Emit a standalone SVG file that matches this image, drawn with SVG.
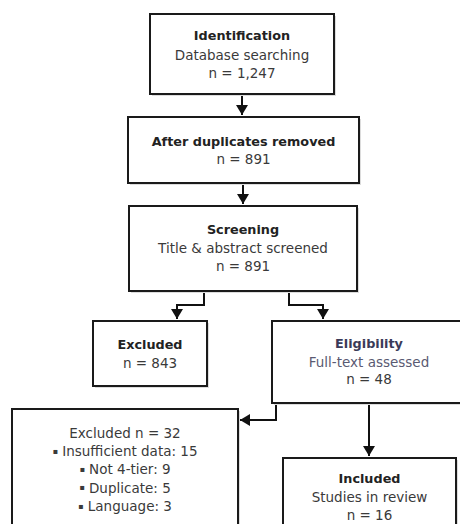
<svg xmlns="http://www.w3.org/2000/svg" width="460" height="524" viewBox="0 0 460 524">
<defs>
<marker id="ah" viewBox="0 0 10 12" refX="10" refY="6" markerWidth="10" markerHeight="12" markerUnits="userSpaceOnUse" orient="auto"><path d="M0,0 L10,6 L0,12 Z" fill="#111"/></marker>
</defs>
<style>
.box{fill:#fff;stroke:#1a1a1a;stroke-width:2}
.sh{fill:#dcdcdc}
.t{font-family:"DejaVu Sans",sans-serif;font-size:13.5px;text-anchor:middle;fill:#3a3a3a}
.b{font-weight:bold;font-size:12.8px;fill:#222}
.el{fill:#3a3a58}
.el2{fill:#5a5a72}
.bl{font-size:8px}
.c{fill:none;stroke:#111;stroke-width:2;marker-end:url(#ah)}
</style>
<rect width="460" height="524" fill="#fff"/>
<g id="connectors">
<path class="c" d="M242,94 V115"/>
<path class="c" d="M243,183 V204"/>
<path class="c" d="M204,291 V305 H177 V319"/>
<path class="c" d="M289,291 V305 H323 V319"/>
<path class="c" d="M276,403 V420 H240"/>
<path class="c" d="M369,403 V456"/>
</g>
<g id="identification">
<rect class="sh" x="152" y="16" width="184" height="80"/>
<rect class="box" x="150" y="14" width="184" height="80"/>
<text class="t b" x="242" y="40">Identification</text>
<text class="t" x="242" y="59.5">Database searching</text>
<text class="t" x="242" y="77.5">n = 1,247</text>
</g>
<g id="duplicates">
<rect class="sh" x="130" y="119" width="231" height="66"/>
<rect class="box" x="128" y="117" width="231" height="66"/>
<text class="t b" x="243.5" y="145.5">After duplicates removed</text>
<text class="t" x="243.5" y="164">n = 891</text>
</g>
<g id="screening">
<rect class="sh" x="131" y="208" width="228" height="85"/>
<rect class="box" x="129" y="206" width="228" height="85"/>
<text class="t b" x="243" y="233.5">Screening</text>
<text class="t" x="243" y="253">Title &amp; abstract screened</text>
<text class="t" x="243" y="271">n = 891</text>
</g>
<g id="excluded">
<rect class="sh" x="95" y="323" width="114" height="65"/>
<rect class="box" x="93" y="321" width="114" height="65"/>
<text class="t b" x="150" y="348.5">Excluded</text>
<text class="t" x="150" y="368">n = 843</text>
</g>
<g id="eligibility">
<rect class="sh" x="274" y="323" width="194" height="82"/>
<rect class="box" x="272" y="321" width="194" height="82"/>
<text class="t b el" x="369" y="347.5">Eligibility</text>
<text class="t el2" x="369" y="367">Full-text assessed</text>
<text class="t" x="369" y="384">n = 48</text>
</g>
<g id="excluded32">
<rect class="sh" x="14" y="411" width="226" height="120"/>
<rect class="box" x="12" y="409" width="226" height="120"/>
<text class="t" x="125" y="438">Excluded n = 32</text>
<text class="t" x="125" y="456"><tspan class="bl" dy="-2.5">▪</tspan><tspan dy="2.5"> Insufficient data: 15</tspan></text>
<text class="t" x="125" y="474"><tspan class="bl" dy="-2.5">▪</tspan><tspan dy="2.5"> Not 4-tier: 9</tspan></text>
<text class="t" x="125" y="492.5"><tspan class="bl" dy="-2.5">▪</tspan><tspan dy="2.5"> Duplicate: 5</tspan></text>
<text class="t" x="125" y="511"><tspan class="bl" dy="-2.5">▪</tspan><tspan dy="2.5"> Language: 3</tspan></text>
</g>
<g id="included">
<rect class="sh" x="285" y="460" width="173" height="70"/>
<rect class="box" x="283" y="458" width="173" height="70"/>
<text class="t b" x="369.5" y="482.5">Included</text>
<text class="t" x="369.5" y="502">Studies in review</text>
<text class="t" x="369.5" y="520">n = 16</text>
</g>
</svg>
